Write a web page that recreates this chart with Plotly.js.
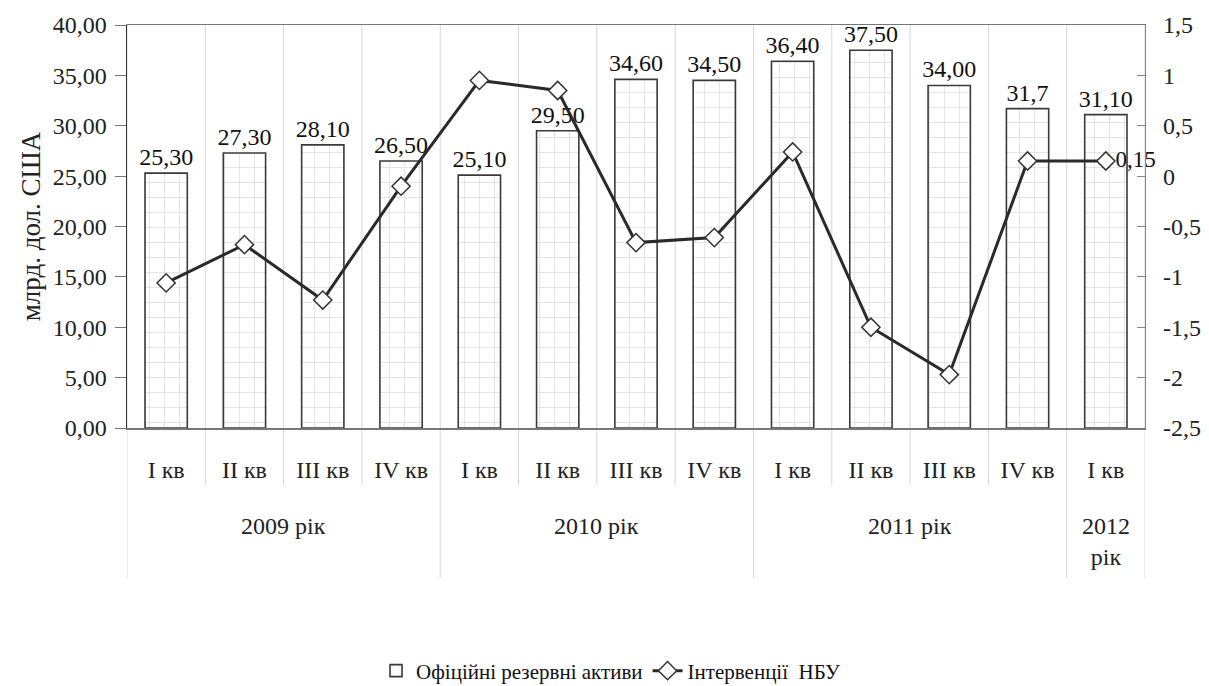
<!DOCTYPE html>
<html>
<head>
<meta charset="utf-8">
<script src="https://cdn.plot.ly/plotly-3.0.1.min.js"></script>
<style>html,body{margin:0;padding:0;background:#fff;}#chart{width:1209px;height:686px;}</style>
</head>
<body>
<div id="chart"></div>
<script>
const years = ["2009 рік","2009 рік","2009 рік","2009 рік","2010 рік","2010 рік","2010 рік","2010 рік","2011 рік","2011 рік","2011 рік","2011 рік","2012<br>рік"];
const quarters = ["I кв","II кв","III кв","IV кв","I кв","II кв","III кв","IV кв","I кв","II кв","III кв","IV кв","I кв"];
const reserves = [25.3, 27.3, 28.1, 26.5, 25.1, 29.5, 34.6, 34.5, 36.4, 37.5, 34.0, 31.7, 31.1];
const reserveLabels = ["25,30","27,30","28,10","26,50","25,10","29,50","34,60","34,50","36,40","37,50","34,00","31,7","31,10"];
const interventions = [-1.06, -0.68, -1.23, -0.10, 0.95, 0.85, -0.66, -0.61, 0.24, -1.50, -1.97, 0.15, 0.15];
const interventionLabels = ["","","","","","","","","","","","","0,15"];
const y2Ticks = [1.5, 1, 0.5, 0, -0.5, -1, -1.5, -2, -2.5];
const y2TickText = ["1,5","1","0,5","0","-0,5","-1","-1,5","-2","-2,5"];

const FONT = "'Liberation Serif', 'Times New Roman', serif";
const idx = quarters.map((q, i) => i);

const bars = {
  type: "bar",
  name: "Офіційні резервні активи",
  x: idx,
  y: reserves,
  text: reserveLabels,
  textposition: "outside",
  constraintext: "none",
  cliponaxis: false,
  textfont: {family: FONT, size: 24, color: "#111"},
  marker: {
    color: "#ffffff",
    line: {color: "#3a3a3a", width: 1.6},
    pattern: {shape: "+", fgcolor: "#d4d4d4", bgcolor: "#ffffff", size: 15, solidity: 0.08}
  },
  hoverinfo: "skip"
};

const line = {
  type: "scatter",
  mode: "lines+markers+text",
  name: "Інтервенції\u00a0\u00a0НБУ",
  x: idx,
  y: interventions,
  yaxis: "y2",
  text: interventionLabels,
  textposition: "middle right",
  cliponaxis: false,
  textfont: {family: FONT, size: 23, color: "#111"},
  line: {color: "#2a2a2a", width: 3},
  marker: {symbol: "diamond", size: 14, color: "#ffffff", line: {color: "#333", width: 1.5}},
  hoverinfo: "skip"
};

// separators at category boundaries; year boundaries run further down
const shapes = [];
for (let b = 0; b <= quarters.length; b++) {
  const isYearEdge = b === 0 || b === quarters.length || years[b] !== years[b - 1];
  shapes.push({
    type: "line", xref: "x", yref: "paper",
    x0: b - 0.5, x1: b - 0.5, y0: 1, y1: isYearEdge ? -0.372 : -0.142,
    line: {color: "#d6d6d6", width: 1}, layer: "below"
  });
}

// year labels centred under their quarters
const annotations = [];
years.forEach((y, i) => {
  if (i > 0 && years[i - 1] === y) return;
  let j = i;
  while (j + 1 < years.length && years[j + 1] === y) j++;
  annotations.push({
    text: y, xref: "x", yref: "paper", x: (i + j) / 2, y: -0.205,
    xanchor: "center", yanchor: "top", showarrow: false,
    font: {family: FONT, size: 24, color: "#222"}
  });
});

const layout = {
  width: 1209, height: 686,
  margin: {l: 127, r: 64, t: 25, b: 258, autoexpand: false},
  paper_bgcolor: "#fff", plot_bgcolor: "#fff",
  separators: ", ",
  font: {family: FONT, size: 22, color: "#222"},
  bargap: 0.46,
  showlegend: true,
  legend: {orientation: "h", x: 0.475, xanchor: "center", y: -0.603, yanchor: "middle",
           font: {family: FONT, size: 21, color: "#111"}, traceorder: "normal"},
  xaxis: {
    range: [-0.5, quarters.length - 0.5],
    tickmode: "array", tickvals: idx, ticktext: quarters,
    showgrid: false, zeroline: false,
    ticks: "", ticklabelstandoff: 20,
    showline: true, linecolor: "#777", linewidth: 1.5, mirror: true,
    tickfont: {family: FONT, size: 24, color: "#222"},
    automargin: false
  },
  yaxis: {
    range: [0, 40], dtick: 5, tickformat: ".2f",
    showgrid: false, zeroline: false,
    showline: true, linecolor: "#333", linewidth: 1.5,
    ticks: "outside", ticklen: 11, tickcolor: "#777",
    ticklabelstandoff: 3,
    tickfont: {family: FONT, size: 24, color: "#222"},
    title: {text: "млрд. дол. США", font: {family: FONT, size: 27, color: "#222"}, standoff: 4},
    automargin: false
  },
  yaxis2: {
    overlaying: "y", side: "right",
    range: [-2.5, 1.5],
    tickmode: "array", tickvals: y2Ticks, ticktext: y2TickText,
    showgrid: false, zeroline: false,
    showline: true, linecolor: "#888", linewidth: 1.2,
    ticks: "inside", ticklen: 8, tickcolor: "#888",
    ticklabelstandoff: 12,
    tickfont: {family: FONT, size: 24, color: "#222"},
    automargin: false
  },
  shapes: shapes,
  annotations: annotations
};

Plotly.newPlot("chart", [bars, line], layout, {displayModeBar: false, staticPlot: true});
</script>
</body>
</html>
